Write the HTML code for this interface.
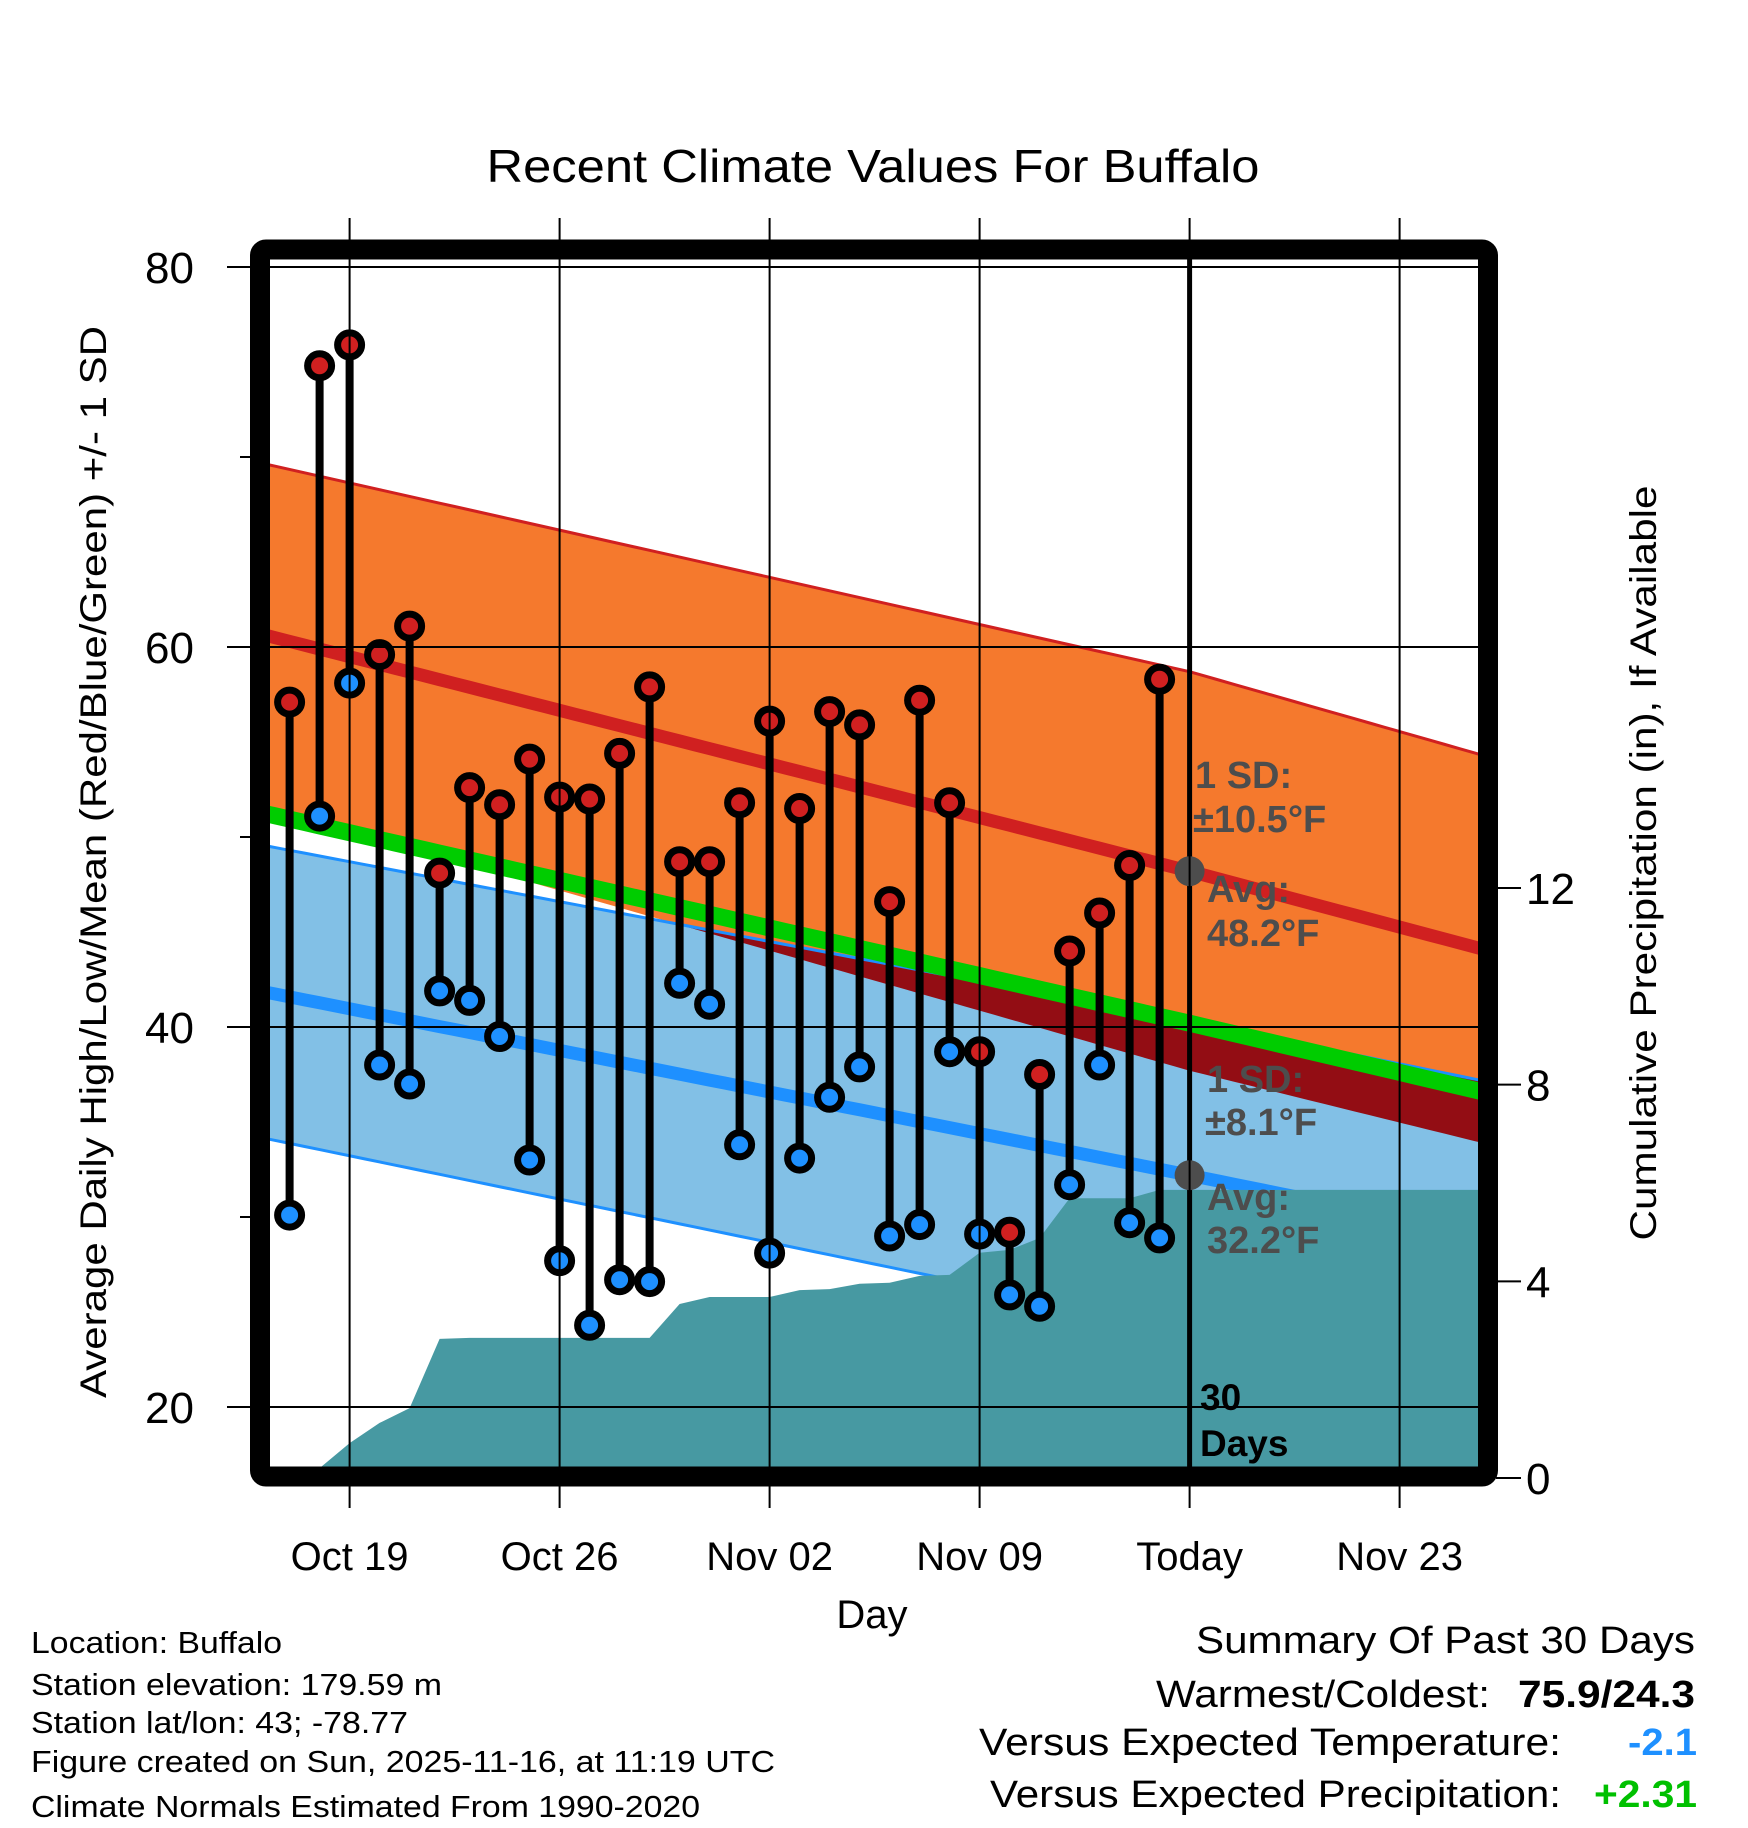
<!DOCTYPE html>
<html><head><meta charset="utf-8"><style>
html,body{margin:0;padding:0;background:#fff;}
svg{display:block;font-family:"Liberation Sans",sans-serif;}
</style></head><body>
<svg id="chart" width="1748" height="1828" viewBox="0 0 1748 1828" xmlns="http://www.w3.org/2000/svg">
<defs><clipPath id="plotclip"><rect x="270" y="259" width="1208" height="1209"/></clipPath></defs>
<text x="873" y="182" font-size="46" text-anchor="middle" textLength="773" lengthAdjust="spacingAndGlyphs">Recent Climate Values For Buffalo</text>
<g id="plot" clip-path="url(#plotclip)"></g>
<g id="over"></g>
<text x="872" y="1628" font-size="40" text-anchor="middle">Day</text>
<text transform="translate(106,862) rotate(-90)" font-size="37" text-anchor="middle" textLength="1072" lengthAdjust="spacingAndGlyphs">Average Daily High/Low/Mean (Red/Blue/Green) +/- 1 SD</text>
<text transform="translate(1656,863) rotate(-90)" font-size="37" text-anchor="middle" textLength="755" lengthAdjust="spacingAndGlyphs">Cumulative Precipitation (in), If Available</text>
<g font-size="31">
<text x="31" y="1653" textLength="251" lengthAdjust="spacingAndGlyphs">Location: Buffalo</text>
<text x="31" y="1695" textLength="411" lengthAdjust="spacingAndGlyphs">Station elevation: 179.59 m</text>
<text x="31" y="1733" textLength="377" lengthAdjust="spacingAndGlyphs">Station lat/lon: 43; -78.77</text>
<text x="31" y="1772" textLength="744" lengthAdjust="spacingAndGlyphs">Figure created on Sun, 2025-11-16, at 11:19 UTC</text>
<text x="31" y="1817" textLength="669" lengthAdjust="spacingAndGlyphs">Climate Normals Estimated From 1990-2020</text>
</g>
<g font-size="38">
<text x="1196" y="1653" textLength="499" lengthAdjust="spacingAndGlyphs">Summary Of Past 30 Days</text>
<text x="1156" y="1707" textLength="334" lengthAdjust="spacingAndGlyphs">Warmest/Coldest:</text>
<text x="1518" y="1707" font-weight="bold" textLength="177" lengthAdjust="spacingAndGlyphs">75.9/24.3</text>
<text x="979" y="1755" textLength="582" lengthAdjust="spacingAndGlyphs">Versus Expected Temperature:</text>
<text x="1628" y="1755" font-weight="bold" fill="#1e90ff" textLength="69" lengthAdjust="spacingAndGlyphs">-2.1</text>
<text x="990" y="1807" textLength="571" lengthAdjust="spacingAndGlyphs">Versus Expected Precipitation:</text>
<text x="1594" y="1807" font-weight="bold" fill="#00c000" textLength="103" lengthAdjust="spacingAndGlyphs">+2.31</text>
</g>
</svg>
<script>
// ---- data ----
const dayOffsets = [-2,-1,0,1,2,3,4,5,6,7,8,9,10,11,12,13,14,15,16,17,18,19,20,21,22,23,24,25,26,27]; // 0 = Oct 19
const highs = [57.1,74.8,75.9,59.6,61.1,48.1,52.6,51.7,54.1,52.1,52.0,54.4,57.9,48.7,48.7,51.8,56.1,51.5,56.6,55.9,46.6,57.2,51.8,38.7,29.2,37.5,44.0,46.0,48.5,58.3];
const lows  = [30.1,51.1,58.1,38.0,37.0,41.9,41.4,39.5,33.0,27.7,24.3,26.7,26.6,42.3,41.2,33.8,28.1,33.1,36.3,37.9,29.0,29.6,38.7,29.1,25.9,25.3,31.7,38.0,29.7,28.9];
const precip = [0,0.2,0.71,1.12,1.42,2.83,2.85,2.85,2.85,2.85,2.85,2.85,2.85,3.54,3.68,3.68,3.68,3.82,3.84,3.95,3.97,4.11,4.13,4.58,4.64,4.88,5.69,5.69,5.69,5.86];
const normDays = [-3, 28, 38];
const normHigh = [60.7, 48.2, 44.0];
const highSD   = [9.0, 10.5, 10.2];
const normLow  = [41.9, 32.2, 29.0];
const lowSD    = [7.7, 8.1, 8.1];
const yTicks = [80,60,40,20];
const yMinor = [70,50,30];
const precipTicks = [0,4,8,12];
const xTickDays = [0,7,14,21,28,35];
const xTickLabels = ["Oct 19","Oct 26","Nov 02","Nov 09","Today","Nov 23"];
const todayDay = 28;

// ---- axes ----
const X = d => 349.6 + 30*d;
const Y = t => 267 + (80 - t)*19.0;
const P = p => 1478 - p*49.17;
const NS = "http://www.w3.org/2000/svg";
const svg = document.getElementById('chart');
const plot = document.getElementById('plot');
const over = document.getElementById('over');
function mk(tag, attrs, parent){
  const e = document.createElementNS(NS, tag);
  for (const k in attrs) e.setAttribute(k, attrs[k]);
  (parent||svg).appendChild(e);
  return e;
}
function interp(arr, d){
  for (let i=0;i<normDays.length-1;i++){
    if (d<=normDays[i+1] || i===normDays.length-2){
      const f=(d-normDays[i])/(normDays[i+1]-normDays[i]);
      return arr[i]+f*(arr[i+1]-arr[i]);
    }
  }
}
const samp=[]; for(let d=-3; d<=38.001; d+=0.5) samp.push(d);
const hi = d=>interp(normHigh,d), hs=d=>interp(highSD,d), lo=d=>interp(normLow,d), ls=d=>interp(lowSD,d);
function band(up, dn){
  const a = samp.map(d=>X(d)+','+Y(up(d)));
  const b = samp.slice().reverse().map(d=>X(d)+','+Y(dn(d)));
  return a.concat(b).join(' ');
}
function line(f){ return samp.map(d=>X(d)+','+Y(f(d))).join(' '); }

let e;
e = mk('polygon',{points:band(d=>hi(d)+hs(d), d=>hi(d)-hs(d)), fill:'#f5792d'}, plot);
 
e = mk('polygon',{points:band(d=>lo(d)+ls(d), d=>lo(d)-ls(d)), fill:'#82c0e6'}, plot);
 
e = mk('polygon',{points:band(d=>lo(d)+ls(d), d=>Math.min(hi(d)-hs(d), lo(d)+ls(d))), fill:'#930d14'}, plot);
 

// grid
yTicks.forEach(t=>{
  e = mk('line',{x1:227,x2:1478,y1:Y(t),y2:Y(t),stroke:'#000','stroke-width':2});
   
  e = mk('text',{x:194,y:Y(t)+16,'font-size':44,'text-anchor':'end'}); e.textContent=t;
   
});
yMinor.forEach(t=>{
  e = mk('line',{x1:240,x2:256,y1:Y(t),y2:Y(t),stroke:'#000','stroke-width':2});
   
});
xTickDays.forEach((d,i)=>{
  e = mk('line',{x1:X(d),x2:X(d),y1:218,y2:1508,stroke:'#000','stroke-width':2});
   
  e = mk('text',{x:X(d),y:1570,'font-size':40,'text-anchor':'middle'}); e.textContent=xTickLabels[i];
   
});
precipTicks.forEach(p=>{
  e = mk('line',{x1:1496,x2:1521,y1:P(p),y2:P(p),stroke:'#000','stroke-width':2});
   
  e = mk('text',{x:1526,y:P(p)+16,'font-size':44}); e.textContent=p;
   
});

// normal lines
e = mk('polyline',{points:line(d=>hi(d)+hs(d)),fill:'none',stroke:'#d02020','stroke-width':3}, plot);
 
e = mk('polyline',{points:line(d=>lo(d)+ls(d)),fill:'none',stroke:'#1e90ff','stroke-width':3}, plot);
 
e = mk('polyline',{points:line(d=>lo(d)-ls(d)),fill:'none',stroke:'#1e90ff','stroke-width':3}, plot);
 
e = mk('polyline',{points:line(hi),fill:'none',stroke:'#d02020','stroke-width':13}, plot);
 
e = mk('polyline',{points:line(lo),fill:'none',stroke:'#1e90ff','stroke-width':13}, plot);
 
e = mk('polyline',{points:line(d=>(hi(d)+lo(d))/2),fill:'none',stroke:'#00cc00','stroke-width':17}, plot);
 

// precipitation
let pts = dayOffsets.map((d,i)=>X(d)+','+P(precip[i]));
pts.push(X(40)+','+P(precip[precip.length-1]));
pts.push(X(40)+','+P(0)); pts.push(X(dayOffsets[0])+','+P(0));
e = mk('polygon',{points:pts.join(' '),fill:'#4799a2'}, plot);
 

// today line
e = mk('line',{x1:X(todayDay),x2:X(todayDay),y1:255,y2:1470,stroke:'#000','stroke-width':5}, over);
 

// stems and dots
dayOffsets.forEach((d,i)=>{
  e = mk('line',{x1:X(d),x2:X(d),y1:Y(highs[i]),y2:Y(lows[i]),stroke:'#000','stroke-width':8}, over);
   
});
dayOffsets.forEach((d,i)=>{
  e = mk('circle',{cx:X(d),cy:Y(lows[i]),r:12,fill:'#1e90ff',stroke:'#000','stroke-width':7}, over);
   
  e = mk('circle',{cx:X(d),cy:Y(highs[i]),r:12,fill:'#d02020',stroke:'#000','stroke-width':7}, over);
   
});

// annotations
e = mk('circle',{cx:X(todayDay),cy:Y(normHigh[1]),r:15,fill:'#4d4d4d'}, over);
 
e = mk('circle',{cx:X(todayDay),cy:Y(normLow[1]),r:15,fill:'#4d4d4d'}, over);
 
const notes = [
 ['high-sd-label',1195,788,'1 SD:'],['high-sd-value',1193,832,'±10.5°F'],
 ['high-avg-label',1207,902,'Avg:'],['high-avg-value',1207,946,'48.2°F'],
 ['low-sd-label',1207,1092,'1 SD:'],['low-sd-value',1205,1135,'±8.1°F'],
 ['low-avg-label',1207,1210,'Avg:'],['low-avg-value',1207,1253,'32.2°F']];
notes.forEach(n=>{
  e = mk('text',{x:n[1],y:n[2],'font-size':38,'font-weight':'bold',fill:'#4d4d4d'}, over);
  e.textContent=n[3];
   
});
e = mk('text',{x:1200,y:1410,'font-size':37,'font-weight':'bold',fill:'#000'}, over); e.textContent='30';
 
e = mk('text',{x:1200,y:1456,'font-size':37,'font-weight':'bold',fill:'#000'}, over); e.textContent='Days';
 

// frame
e = mk('rect',{x:260,y:249.5,width:1228,height:1227,fill:'none',stroke:'#000','stroke-width':20,rx:6});
 
</script>
</body></html>
